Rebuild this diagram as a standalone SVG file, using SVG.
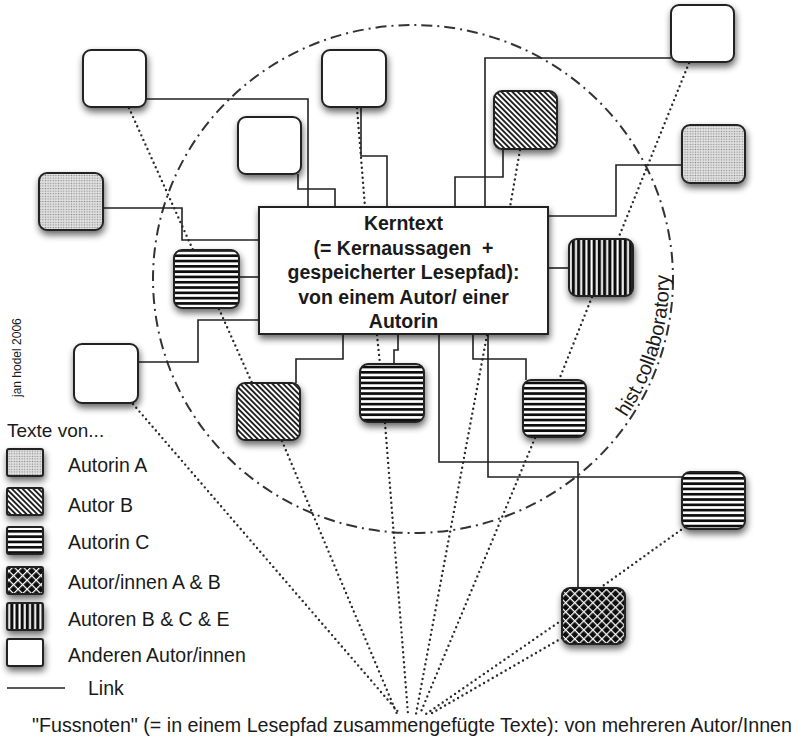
<svg xmlns="http://www.w3.org/2000/svg" xmlns:xlink="http://www.w3.org/1999/xlink" width="804" height="749" viewBox="0 0 804 749">
<style>
text{font-family:"Liberation Sans",Arial,Helvetica,sans-serif;fill:#1a1a1a}
.node{stroke:#222;stroke-width:2}
.core{fill:#fff;stroke:#222;stroke-width:2}
.core-t{font-size:19.5px;font-weight:bold;text-anchor:middle}
.link{fill:none;stroke:#222;stroke-width:1.6}
.dot{fill:none;stroke:#2a2a2a;stroke-width:2.4;stroke-dasharray:0 5;stroke-linecap:round}
.circ{fill:none;stroke:#333;stroke-width:2;stroke-dasharray:11 5 2 5}
.leg{font-size:19.5px}
.sw{stroke:#222;stroke-width:2}
</style>
<defs>
<filter id="sh" x="-30%" y="-30%" width="170%" height="180%">
<feGaussianBlur in="SourceAlpha" stdDeviation="3.5"/>
<feOffset dx="1" dy="4"/>
<feComponentTransfer><feFuncA type="linear" slope="0.6"/></feComponentTransfer>
<feMerge><feMergeNode/><feMergeNode in="SourceGraphic"/></feMerge>
</filter>
<pattern id="pA" width="2.6" height="2.6" patternUnits="userSpaceOnUse">
<rect width="2.6" height="2.6" fill="#e4e4e4"/>
<circle cx="1.3" cy="1.3" r="0.75" fill="#8a8a8a"/>
</pattern>
<pattern id="pB" width="3.8" height="3.8" patternUnits="userSpaceOnUse" patternTransform="rotate(-45)">
<rect width="3.8" height="3.8" fill="#fff"/>
<rect width="1.9" height="3.8" fill="#222"/>
</pattern>
<pattern id="pC" width="5.3" height="5.3" patternUnits="userSpaceOnUse">
<rect width="5.3" height="5.3" fill="#fff"/>
<rect width="5.3" height="2.7" fill="#111"/>
</pattern>
<pattern id="pE" width="5.2" height="5.2" patternUnits="userSpaceOnUse">
<rect width="5.2" height="5.2" fill="#111"/>
<rect x="3" width="2" height="5.2" fill="#fff"/>
</pattern>
<pattern id="pX" width="6.4" height="6.4" patternUnits="userSpaceOnUse" patternTransform="rotate(45)">
<rect width="6.4" height="6.4" fill="#111"/>
<rect width="6.4" height="1.2" fill="#fff"/>
<rect width="1.2" height="6.4" fill="#fff"/>
</pattern>
<path id="arcText" d="M594,455.8 A256,250 0 0 0 634.7,154"/>
</defs>
<rect width="804" height="749" fill="#fff"/>

<g id="collaboratory">
<ellipse class="circ" cx="413" cy="279" rx="260" ry="254"/>
<text font-size="20"><textPath xlink:href="#arcText" startOffset="50">hist.collaboratory</textPath></text>
</g>

<g id="connectors">
<path class="link" d="M146,99 H308 V207"/>
<path class="link" d="M103,208 H182 V240 H259"/>
<path class="link" d="M239,277 H259"/>
<path class="link" d="M138,362 H198 V320 H259"/>
<path class="link" d="M298,174 V189 H335 V207"/>
<path class="link" d="M361,107 V156 H387 V207"/>
<path class="link" d="M485,207 V58 H671"/>
<path class="link" d="M503,149 V177 H455 V207"/>
<path class="link" d="M548,216 H616 V165 H682"/>
<path class="link" d="M548,268 H569"/>
<path class="link" d="M296,383 V359 H343 V334"/>
<path class="link" d="M394,364 V350 H398 V334"/>
<path class="link" d="M439,334 V462 H578 V588"/>
<path class="link" d="M488,334 V477 H682"/>
<path class="link" d="M526,380 V359 H473 V334"/>
<path class="dot" d="M129,108 L193,250"/>
<path class="dot" d="M219,309 L252,383"/>
<path class="dot" d="M282,441 L397,714"/>
<path class="dot" d="M133,404 L400,714"/>
<path class="dot" d="M357,108 L365,207"/>
<path class="dot" d="M377,335 L380,364"/>
<path class="dot" d="M385,423 L408,714"/>
<path class="dot" d="M520,150 L510,207"/>
<path class="dot" d="M487,335 L416,714"/>
<path class="dot" d="M689,63 L618,239"/>
<path class="dot" d="M592,297 L559,380"/>
<path class="dot" d="M535,438 L420,714"/>
<path class="dot" d="M685,527 L600,588"/>
<path class="dot" d="M562,620 L426,714"/>
<path class="dot" d="M562,638 L432,713"/>
</g>

<g id="n1" filter="url(#sh)"><rect class="node" x="83" y="50" width="63" height="57" rx="8" fill="#fff"/></g>
<g id="n2" filter="url(#sh)"><rect class="node" x="39" y="173" width="64" height="57" rx="8" fill="url(#pA)"/></g>
<g id="n3" filter="url(#sh)"><rect class="node" x="238" y="117" width="63" height="57" rx="8" fill="#fff"/></g>
<g id="n4" filter="url(#sh)"><rect class="node" x="322" y="50" width="64" height="57" rx="8" fill="#fff"/></g>
<g id="n5" filter="url(#sh)"><rect class="node" x="494" y="91" width="63" height="58" rx="8" fill="url(#pB)"/></g>
<g id="n6" filter="url(#sh)"><rect class="node" x="671" y="5" width="63" height="57" rx="8" fill="#fff"/></g>
<g id="n7" filter="url(#sh)"><rect class="node" x="682" y="125" width="63" height="58" rx="8" fill="url(#pA)"/></g>
<g id="n8" filter="url(#sh)"><rect class="node" x="569" y="239" width="64" height="57" rx="8" fill="url(#pE)"/></g>
<g id="n9" filter="url(#sh)"><rect class="node" x="174" y="250" width="65" height="58" rx="8" fill="url(#pC)"/></g>
<g id="n10" filter="url(#sh)"><rect class="node" x="74" y="344" width="64" height="59" rx="8" fill="#fff"/></g>
<g id="n11" filter="url(#sh)"><rect class="node" x="237" y="383" width="63" height="57" rx="8" fill="url(#pB)"/></g>
<g id="n12" filter="url(#sh)"><rect class="node" x="360" y="364" width="64" height="58" rx="8" fill="url(#pC)"/></g>
<g id="n13" filter="url(#sh)"><rect class="node" x="523" y="380" width="63" height="57" rx="8" fill="url(#pC)"/></g>
<g id="n14" filter="url(#sh)"><rect class="node" x="682" y="472" width="63" height="57" rx="8" fill="url(#pC)"/></g>
<g id="n15" filter="url(#sh)"><rect class="node" x="562" y="588" width="63" height="56" rx="8" fill="url(#pX)"/></g>

<g id="core">
<rect class="core" x="259" y="207" width="289" height="127" filter="url(#sh)"/>
<text class="core-t" x="403.5" y="230">Kerntext</text>
<text class="core-t" x="403.5" y="254.5" xml:space="preserve">(= Kernaussagen  +</text>
<text class="core-t" x="403.5" y="279">gespeicherter Lesepfad):</text>
<text class="core-t" x="403.5" y="303.5">von einem Autor/ einer</text>
<text class="core-t" x="403.5" y="328">Autorin</text>
</g>

<g id="credit"><text font-size="12" transform="translate(21,397) rotate(-90)">jan hodel 2006</text></g>

<g id="legend">
<text x="7" y="437" font-size="19">Texte von...</text>
<rect class="sw" x="7" y="449" width="36" height="27" rx="2" fill="url(#pA)" filter="url(#sh)"/>
<text class="leg" x="68" y="472">Autorin A</text>
<rect class="sw" x="7" y="488" width="36" height="27" rx="2" fill="url(#pB)" filter="url(#sh)"/>
<text class="leg" x="68" y="512">Autor B</text>
<rect class="sw" x="7" y="527" width="36" height="27" rx="2" fill="url(#pC)" filter="url(#sh)"/>
<text class="leg" x="68" y="549">Autorin C</text>
<rect class="sw" x="7" y="567" width="36" height="27" rx="2" fill="url(#pX)" filter="url(#sh)"/>
<text class="leg" x="68" y="589">Autor/innen A &amp; B</text>
<rect class="sw" x="7" y="603" width="36" height="27" rx="2" fill="url(#pE)" filter="url(#sh)"/>
<text class="leg" x="68" y="626">Autoren B &amp; C &amp; E</text>
<rect class="sw" x="7" y="639" width="36" height="27" rx="2" fill="#fff" filter="url(#sh)"/>
<text class="leg" x="68" y="662">Anderen Autor/innen</text>
<line x1="7" y1="688" x2="65" y2="688" stroke="#222" stroke-width="1.6"/>
<text class="leg" x="88" y="695">Link</text>
</g>

<g id="footnote">
<text x="32" y="732" font-size="19.5" textLength="760" lengthAdjust="spacingAndGlyphs">"Fussnoten" (= in einem Lesepfad zusammengefügte Texte): von mehreren Autor/Innen</text>
</g>
</svg>
